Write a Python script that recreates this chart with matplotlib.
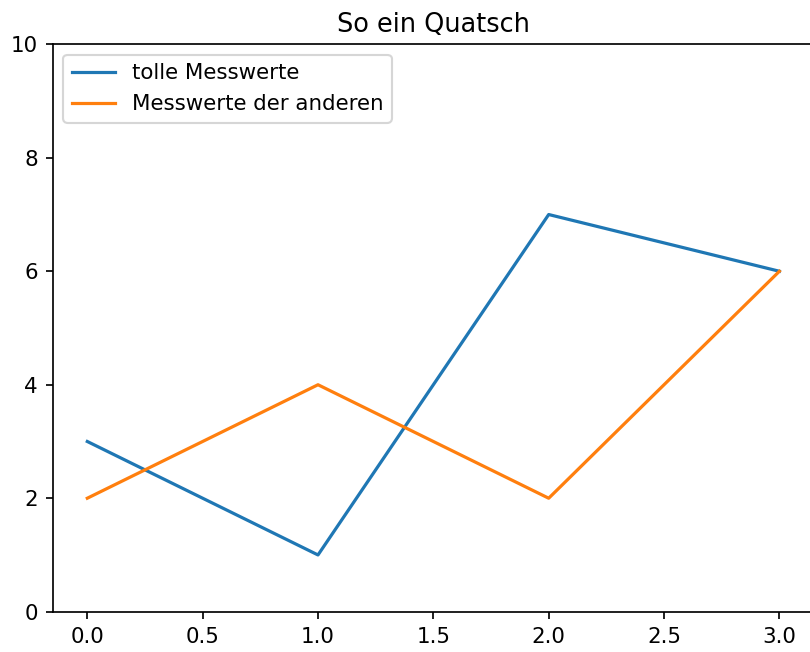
import matplotlib
matplotlib.use("Agg")
import matplotlib.pyplot as plt

x = [0, 1, 2, 3]
tolle = [3, 1, 7, 6]
andere = [2, 4, 2, 6]

DPI = 153.5
fig = plt.figure(figsize=(810 / DPI, 652 / DPI), dpi=DPI)
# axes placed like the cropped default layout
ax = fig.add_axes([52.7 / 810, 40.3 / 652, 761.3 / 810, 567.4 / 652])

ax.plot(x, tolle, label="tolle Messwerte")
ax.plot(x, andere, label="Messwerte der anderen")
ax.set_ylim(0, 10)
ax.set_title("So ein Quatsch")
ax.legend(loc="upper left")

fig.savefig("out.png", dpi=DPI)
